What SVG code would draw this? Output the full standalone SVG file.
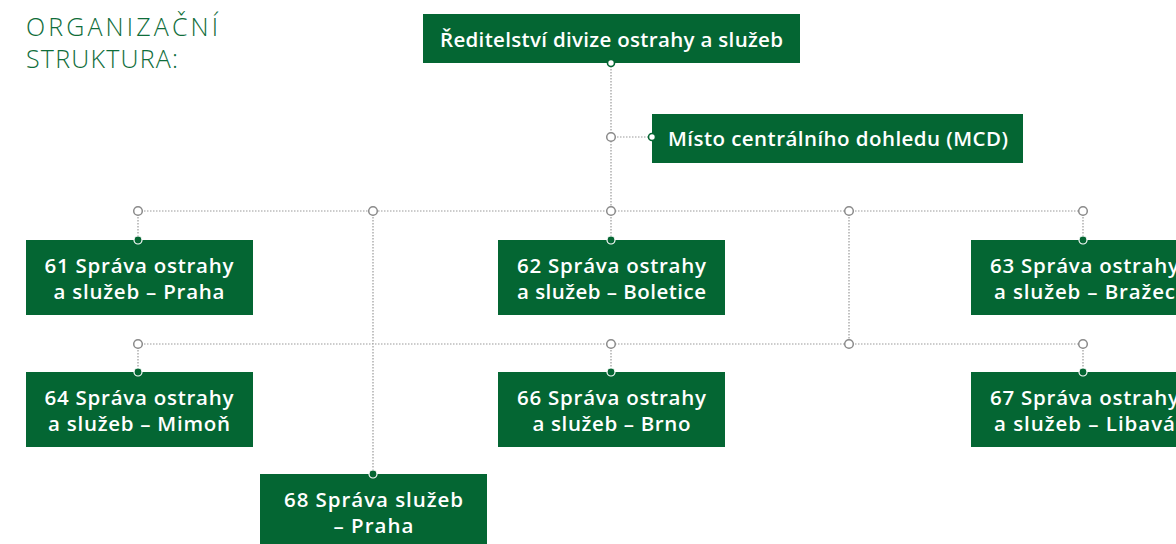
<svg xmlns="http://www.w3.org/2000/svg" width="1176" height="544" viewBox="0 0 1176 544">
<style>
.box{fill:#046633}
.t{font-family:"Open Sans","Liberation Sans",sans-serif;font-weight:600;font-size:20.5px;fill:#fff;text-anchor:middle}
.title{font-family:"Open Sans","Liberation Sans",sans-serif;font-weight:300;font-size:25px;fill:#0f6d3a}
.ln{stroke:#9a9a9a;stroke-width:1.2;stroke-dasharray:1.5 1.5;fill:none}
.j{fill:#fff;stroke:#8a8a8a;stroke-width:1.5}
.e{fill:#fff;stroke:#046633;stroke-width:1.6}
.ec{fill:#046633;stroke:#fff;stroke-width:1.2}
</style>
<rect width="1176" height="544" fill="#fff"/>
<g id="title">
<text class="title" x="26" y="36" textLength="192">ORGANIZAČNÍ</text>
<text class="title" x="26" y="68" textLength="152">STRUKTURA:</text>
</g>
<g id="connectors">
<path class="ln" d="M611 63V211M611 137H652M138 211H1083M138 211V240M611 211V240M1083 211V240M849 211V344M138 344H1083M138 344V372M611 344V372M1083 344V372M373 211V474"/>
<circle class="j" cx="611" cy="137" r="4.3"/>
<circle class="j" cx="138" cy="211" r="4.3"/>
<circle class="j" cx="373" cy="211" r="4.3"/>
<circle class="j" cx="611" cy="211" r="4.3"/>
<circle class="j" cx="849" cy="211" r="4.3"/>
<circle class="j" cx="1083" cy="211" r="4.3"/>
<circle class="j" cx="138" cy="344" r="4.3"/>
<circle class="j" cx="611" cy="344" r="4.3"/>
<circle class="j" cx="849" cy="344" r="4.3"/>
<circle class="j" cx="1083" cy="344" r="4.3"/>
</g>
<g id="n-root">
<rect class="box" x="423" y="14" width="377" height="49"/>
<text class="t" x="611.5" y="47" textLength="343">Ředitelství divize ostrahy a služeb</text>
</g>
<g id="n-mcd">
<rect class="box" x="652" y="114" width="371" height="49"/>
<text class="t" x="838" y="146" textLength="340">Místo centrálního dohledu (MCD)</text>
</g>
<g id="n61">
<rect class="box" x="26" y="240" width="227" height="75"/>
<text class="t" x="139" y="273" textLength="189">61 Správa ostrahy</text>
<text class="t" x="139" y="299" textLength="171">a služeb – Praha</text>
</g>
<g id="n62">
<rect class="box" x="498" y="240" width="227" height="75"/>
<text class="t" x="611.5" y="273" textLength="189">62 Správa ostrahy</text>
<text class="t" x="611.5" y="299" textLength="189">a služeb – Boletice</text>
</g>
<g id="n63">
<rect class="box" x="971" y="240" width="227" height="75"/>
<text class="t" x="1084.5" y="273" textLength="189">63 Správa ostrahy</text>
<text class="t" x="1084.5" y="299" textLength="181">a služeb – Bražec</text>
</g>
<g id="n64">
<rect class="box" x="26" y="372" width="227" height="75"/>
<text class="t" x="139" y="405" textLength="189">64 Správa ostrahy</text>
<text class="t" x="139" y="431" textLength="182">a služeb – Mimoň</text>
</g>
<g id="n66">
<rect class="box" x="498" y="372" width="227" height="75"/>
<text class="t" x="611.5" y="405" textLength="189">66 Správa ostrahy</text>
<text class="t" x="611.5" y="431" textLength="158">a služeb – Brno</text>
</g>
<g id="n67">
<rect class="box" x="971" y="372" width="227" height="75"/>
<text class="t" x="1084.5" y="405" textLength="189">67 Správa ostrahy</text>
<text class="t" x="1084.5" y="431" textLength="181">a služeb – Libavá</text>
</g>
<g id="n68">
<rect class="box" x="260" y="474" width="227" height="75"/>
<text class="t" x="373.5" y="507" textLength="179">68 Správa služeb</text>
<text class="t" x="373.5" y="533" textLength="80">– Praha</text>
</g>
<g id="ends">
<circle class="e" cx="611" cy="63" r="3.5"/>
<circle class="e" cx="652" cy="137" r="3.5"/>
<circle class="ec" cx="138" cy="240" r="4"/>
<circle class="ec" cx="611" cy="240" r="4"/>
<circle class="ec" cx="1083" cy="240" r="4"/>
<circle class="ec" cx="138" cy="372" r="4"/>
<circle class="ec" cx="611" cy="372" r="4"/>
<circle class="ec" cx="1083" cy="372" r="4"/>
<circle class="ec" cx="373" cy="474" r="4"/>
</g>
</svg>
